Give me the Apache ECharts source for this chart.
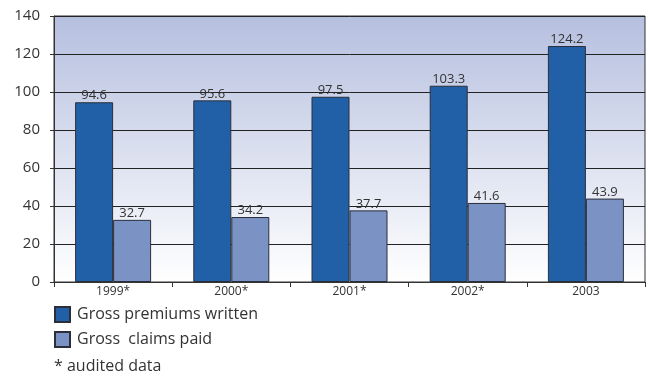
<!DOCTYPE html>
<html>
<head>
<meta charset="utf-8">
<script src="https://cdn.jsdelivr.net/npm/echarts@6/dist/echarts.min.js"></script>
<style>
  html, body { margin: 0; padding: 0; background: #fff; }
  #chart { width: 648px; height: 376px; }
</style>
</head>
<body>
<div id="chart"></div>
<script>
// Years shown on the category axis
const years = ['1999*', '2000*', '2001*', '2002*', '2003'];
// Gross premiums written
const premiums = [94.6, 95.6, 97.5, 103.3, 124.2];
// Gross claims paid
const claims = [32.7, 34.2, 37.7, 41.6, 43.9];
// Value axis ticks
const yMin = 0, yMax = 140, yStep = 20;

const font = '"Open Sans", "DejaVu Sans", sans-serif';
const chart = echarts.init(document.getElementById('chart'));

chart.setOption({
  animation: false,
  textStyle: { fontFamily: font, color: '#333' },
  grid: {
    left: 54, right: 3, top: 16, bottom: 94,
    show: true,
    borderColor: '#333', borderWidth: 1,
    backgroundColor: new echarts.graphic.LinearGradient(0, 0, 0, 1, [
      { offset: 0, color: '#b5bfdf' },
      { offset: 1, color: '#ffffff' }
    ])
  },
  legend: {
    orient: 'vertical', left: 54, top: 306, padding: 0,
    itemWidth: 15, itemHeight: 15, itemGap: 8,
    icon: 'rect',
    textStyle: { fontFamily: font, fontSize: 16, color: '#333', padding: [0, 0, 0, 2] },
    data: ['Gross premiums written', 'Gross  claims paid']
  },
  xAxis: {
    type: 'category', data: years,
    axisLine: { lineStyle: { color: '#333' } },
    axisTick: { show: true, length: 5, lineStyle: { color: '#333' } },
    axisLabel: { fontSize: 12, color: '#333', margin: 4, fontFamily: font }
  },
  yAxis: {
    type: 'value', min: yMin, max: yMax, interval: yStep,
    axisLine: { show: true, lineStyle: { color: '#333' } },
    axisTick: { show: true, length: 4, lineStyle: { color: '#333' } },
    splitLine: { lineStyle: { color: '#222', width: 1 } },
    axisLabel: { fontSize: 15, color: '#333', margin: 14, fontFamily: font }
  },
  series: [
    {
      name: 'Gross premiums written', type: 'bar', data: premiums,
      barWidth: 38, barGap: '0%',
      itemStyle: { color: '#2160a6', borderColor: '#2a2f3a', borderWidth: 1 },
      label: { show: true, position: 'top', distance: 0, fontSize: 13, color: '#333', fontFamily: font }
    },
    {
      name: 'Gross  claims paid', type: 'bar', data: claims,
      barWidth: 38, barGap: '0%',
      itemStyle: { color: '#7b92c4', borderColor: '#2a2f3a', borderWidth: 1 },
      label: { show: true, position: 'top', distance: 0, fontSize: 13, color: '#333', fontFamily: font }
    }
  ],
  graphic: [
    {
      type: 'text', left: 54, top: 358,
      style: { text: '* audited data', fontSize: 16, fill: '#333', fontFamily: font }
    }
  ]
});
</script>
</body>
</html>
